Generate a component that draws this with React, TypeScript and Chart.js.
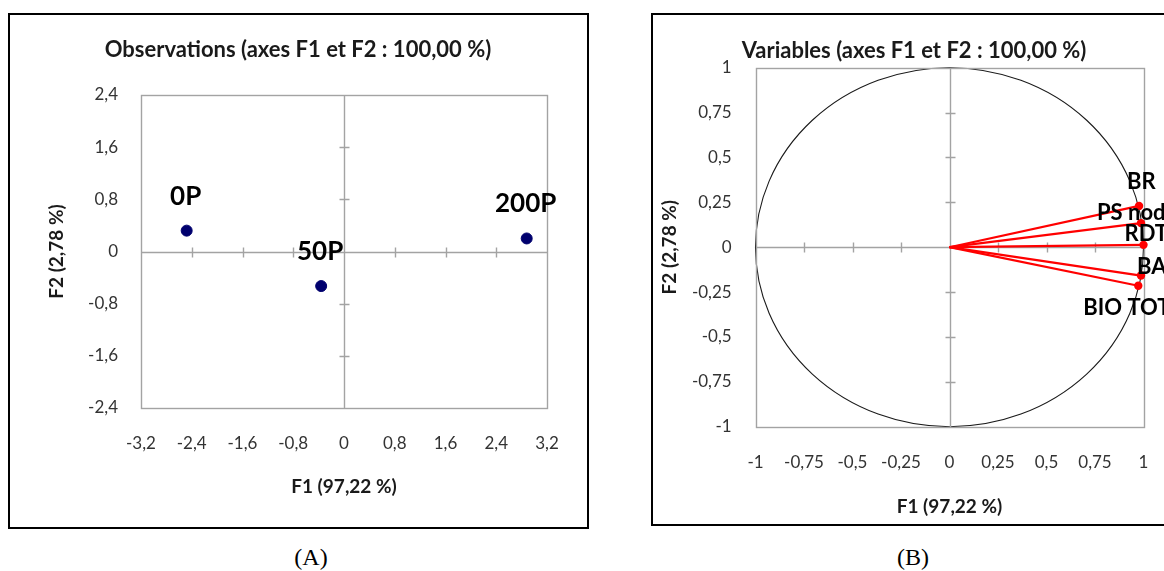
import React, { useEffect, useRef } from 'react';
import { Chart, registerables } from 'chart.js';

Chart.register(...registerables);

// ---------- data ----------
const obsLabels = ['0P', '50P', '200P'];
const obsF1 = [-2.48, -0.36, 2.88];
const obsF2 = [0.32, -0.53, 0.2];
const obsXTicks = [-3.2, -2.4, -1.6, -0.8, 0, 0.8, 1.6, 2.4, 3.2];
const obsYTicks = [-2.4, -1.6, -0.8, 0, 0.8, 1.6, 2.4];

const varLabels = ['BR', 'PS nod', 'RDT', 'BA', 'BIO TOT'];
const varF1 = [0.977, 0.987, 1.0, 0.987, 0.973];
const varF2 = [0.23, 0.134, 0.013, -0.158, -0.215];
const varTicks = [-1, -0.75, -0.5, -0.25, 0, 0.25, 0.5, 0.75, 1];

const titleA = 'Observations (axes F1 et F2 : 100,00 %)';
const titleB = 'Variables (axes F1 et F2 : 100,00 %)';
const xTitle = 'F1 (97,22 %)';
const yTitle = 'F2 (2,78 %)';

// ---------- style ----------
const FONT = 'Lato, "Open Sans", sans-serif';
const TICK_COLOR = '#333333';
const AXIS_GRAY = '#a3a3a3';
// label offsets (px) relative to the marker, for the variables chart
const varLabelOffsets = [
  [-12, -24],
  [-44, -10.5],
  [-19, -11],
  [-4, -8.5],
  [-55, 22],
];

const fmt = (v: number) => String(Math.round(v * 100) / 100).replace('.', ',');

function axesPlugin(xTicks: number[], yTicks: number[], circle: boolean) {
  return {
    id: 'pcaAxes',
    beforeDatasetsDraw(chart: any) {
      const ctx = chart.ctx;
      const xs = chart.scales.x;
      const ys = chart.scales.y;
      const px = (v: number) => Math.round(xs.getPixelForValue(v)) + 0.5;
      const py = (v: number) => Math.round(ys.getPixelForValue(v)) + 0.5;
      ctx.save();
      if (circle) {
        const cx = xs.getPixelForValue(0);
        const cy = ys.getPixelForValue(0);
        const rx = xs.getPixelForValue(1) - cx;
        const ry = cy - ys.getPixelForValue(1);
        ctx.beginPath();
        ctx.ellipse(cx, cy, rx, ry, 0, 0, Math.PI * 2);
        ctx.strokeStyle = '#1a1a1a';
        ctx.lineWidth = 1.1;
        ctx.stroke();
      }
      ctx.strokeStyle = AXIS_GRAY;
      ctx.lineWidth = 1.4;
      const l = px(xs.min);
      const r = px(xs.max);
      const t = py(ys.max);
      const b = py(ys.min);
      ctx.strokeRect(l, t, r - l, b - t);
      const x0 = px(0);
      const y0 = py(0);
      ctx.beginPath();
      ctx.moveTo(x0, t);
      ctx.lineTo(x0, b);
      ctx.moveTo(l, y0);
      ctx.lineTo(r, y0);
      xTicks.forEach((v) => {
        if (v !== 0 && v !== xs.min && v !== xs.max) {
          const x = px(v);
          ctx.moveTo(x, y0 - 5);
          ctx.lineTo(x, y0 + 5);
        }
      });
      yTicks.forEach((v) => {
        if (v !== 0 && v !== ys.min && v !== ys.max) {
          const y = py(v);
          ctx.moveTo(x0 - 5, y);
          ctx.lineTo(x0 + 5, y);
        }
      });
      ctx.stroke();
      ctx.restore();
    },
  };
}

function obsLabelPlugin() {
  return {
    id: 'obsLabels',
    afterDatasetsDraw(chart: any) {
      const ctx = chart.ctx;
      const meta = chart.getDatasetMeta(0);
      ctx.save();
      ctx.font = `bold 26px ${FONT}`;
      ctx.fillStyle = '#000';
      ctx.textAlign = 'center';
      ctx.textBaseline = 'middle';
      meta.data.forEach((pt: any, i: number) => {
        ctx.fillText(obsLabels[i], pt.x - 1, pt.y - 34.5);
      });
      ctx.restore();
    },
  };
}

function varLabelPlugin() {
  return {
    id: 'varLabels',
    afterDatasetsDraw(chart: any) {
      const ctx = chart.ctx;
      ctx.save();
      ctx.font = `bold 22px ${FONT}`;
      ctx.fillStyle = '#000';
      ctx.textAlign = 'left';
      ctx.textBaseline = 'middle';
      varLabels.forEach((name, i) => {
        const pt = chart.getDatasetMeta(i).data[1];
        const [dx, dy] = varLabelOffsets[i];
        ctx.fillText(name, pt.x + dx, pt.y + dy);
      });
      ctx.restore();
    },
  };
}

type Layout = {
  padL: number;
  padR: number;
  padT: number;
  padB: number;
  titlePadT: number;
  titlePadB: number;
  yWidth: number;
  yTickPad: number;
  yTitlePadT: number;
  xHeight: number;
  xTickPad: number;
  xTitlePadB: number;
  rightW: number;
};

function makeScales(xTicks: number[], yTicks: number[], L: Layout) {
  return {
    x: {
      type: 'linear',
      position: 'bottom',
      min: xTicks[0],
      max: xTicks[xTicks.length - 1],
      afterBuildTicks: (s: any) => {
        s.ticks = xTicks.map((v) => ({ value: v }));
      },
      afterFit: (s: any) => {
        s.height = L.xHeight;
      },
      grid: { display: false, drawTicks: false },
      border: { display: false },
      ticks: {
        autoSkip: false,
        maxRotation: 0,
        padding: L.xTickPad,
        color: TICK_COLOR,
        font: { family: FONT, size: 17 },
        callback: (v: any) => fmt(Number(v)),
      },
      title: {
        display: true,
        text: xTitle,
        color: '#1a1a1a',
        font: { family: FONT, size: 19, weight: 'bold' },
        padding: { top: 0, bottom: L.xTitlePadB },
      },
    },
    y: {
      type: 'linear',
      position: 'left',
      min: yTicks[0],
      max: yTicks[yTicks.length - 1],
      afterBuildTicks: (s: any) => {
        s.ticks = yTicks.map((v) => ({ value: v }));
      },
      afterFit: (s: any) => {
        s.width = L.yWidth;
      },
      grid: { display: false, drawTicks: false },
      border: { display: false },
      ticks: {
        autoSkip: false,
        padding: L.yTickPad,
        color: TICK_COLOR,
        font: { family: FONT, size: 17 },
        callback: (v: any) => fmt(Number(v)),
      },
      title: {
        display: true,
        text: yTitle,
        color: '#1a1a1a',
        font: { family: FONT, size: 19, weight: 'bold' },
        padding: { top: L.yTitlePadT, bottom: 0 },
      },
    },
    yRight: {
      type: 'linear',
      position: 'right',
      display: true,
      afterFit: (s: any) => {
        s.width = L.rightW;
      },
      grid: { display: false, drawTicks: false },
      border: { display: false },
      ticks: { display: false },
      title: { display: false },
    },
  };
}

function baseOptions(title: string, L: Layout, scales: any) {
  return {
    responsive: false,
    maintainAspectRatio: false,
    animation: false,
    devicePixelRatio: 1,
    events: [],
    layout: {
      padding: { left: L.padL, right: L.padR, top: L.padT, bottom: L.padB },
    },
    plugins: {
      legend: { display: false },
      tooltip: { enabled: false },
      title: {
        display: true,
        text: title,
        color: '#1a1a1a',
        font: { family: FONT, size: 22, weight: 'bold' },
        padding: { top: L.titlePadT, bottom: L.titlePadB },
      },
    },
    scales,
  };
}

const layoutA: Layout = {
  padL: 30,
  padR: 34,
  padT: 20,
  padB: 32,
  titlePadT: 16.8,
  titlePadB: 31.8,
  yWidth: 111,
  yTickPad: 23,
  yTitlePadT: 15.6,
  xHeight: 100,
  xTickPad: 25.1,
  xTitlePadB: 9.6,
  rightW: 19,
};

const layoutB: Layout = {
  padL: 30,
  padR: 22,
  padT: 20,
  padB: 13.3,
  titlePadT: 17.3,
  titlePadB: 4,
  yWidth: 105.5,
  yTickPad: 23.8,
  yTitlePadT: 8.6,
  xHeight: 100,
  xTickPad: 25.8,
  xTitlePadB: 8.6,
  rightW: 34.5,
};

function ObservationsChart() {
  const ref = useRef<HTMLCanvasElement>(null);
  useEffect(() => {
    if (!ref.current) return;
    const chart = new Chart(ref.current, {
      type: 'scatter',
      data: {
        datasets: [
          {
            label: 'Observations',
            data: obsF1.map((x, i) => ({ x, y: obsF2[i] })),
            backgroundColor: '#00006e',
            borderColor: '#00006e',
            pointRadius: 5.5,
            clip: false,
          },
        ],
      },
      options: baseOptions(titleA, layoutA, makeScales(obsXTicks, obsYTicks, layoutA)) as any,
      plugins: [axesPlugin(obsXTicks, obsYTicks, false), obsLabelPlugin()],
    } as any);
    return () => chart.destroy();
  }, []);
  return (
    <canvas
      ref={ref}
      width={600}
      height={540}
      style={{ position: 'absolute', left: 0, top: 0, width: 600, height: 540 }}
    />
  );
}

function VariablesChart() {
  const ref = useRef<HTMLCanvasElement>(null);
  useEffect(() => {
    if (!ref.current) return;
    const chart = new Chart(ref.current, {
      type: 'scatter',
      data: {
        datasets: varLabels.map((name, i) => ({
          label: name,
          data: [
            { x: 0, y: 0 },
            { x: varF1[i], y: varF2[i] },
          ],
          showLine: true,
          borderColor: '#ff0000',
          backgroundColor: '#ff0000',
          borderWidth: 2.2,
          pointRadius: [0, 4.2],
          pointBorderWidth: 0,
          clip: false,
        })),
      },
      options: baseOptions(titleB, layoutB, makeScales(varTicks, varTicks, layoutB)) as any,
      plugins: [axesPlugin(varTicks, varTicks, true), varLabelPlugin()],
    } as any);
    return () => chart.destroy();
  }, []);
  return (
    <canvas
      ref={ref}
      width={580}
      height={540}
      style={{ position: 'absolute', left: 620, top: 0, width: 580, height: 540 }}
    />
  );
}

const caption: React.CSSProperties = {
  position: 'absolute',
  top: 542,
  width: 100,
  textAlign: 'center',
  fontFamily: '"Liberation Serif", "Times New Roman", serif',
  fontSize: 24,
  lineHeight: '30px',
  color: '#000',
};

export default function App() {
  return (
    <div
      style={{
        position: 'absolute',
        left: 0,
        top: 0,
        width: 1164,
        height: 571,
        overflow: 'hidden',
        background: '#fff',
      }}
    >
      <div
        style={{
          position: 'absolute',
          left: 8,
          top: 13,
          width: 581,
          height: 516,
          border: '2px solid #000',
          boxSizing: 'border-box',
        }}
      />
      <div
        style={{
          position: 'absolute',
          left: 651,
          top: 13,
          width: 560,
          height: 513,
          border: '2px solid #000',
          boxSizing: 'border-box',
        }}
      />
      <ObservationsChart />
      <VariablesChart />
      <div style={{ ...caption, left: 261 }}>(A)</div>
      <div style={{ ...caption, left: 863 }}>(B)</div>
    </div>
  );
}
